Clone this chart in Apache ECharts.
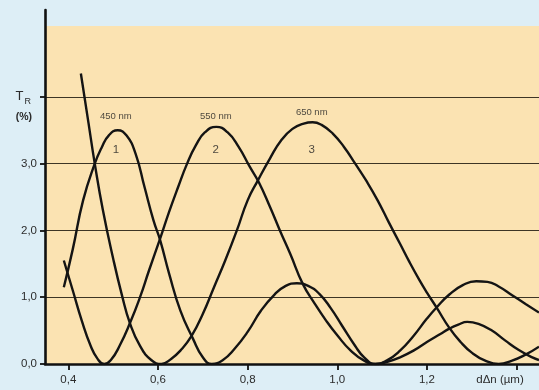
<!DOCTYPE html>
<html>
<head>
<meta charset="utf-8">
<script src="https://cdn.jsdelivr.net/npm/echarts@6/dist/echarts.min.js"></script>
<style>
  html, body { margin: 0; padding: 0; background: #ddeef6; }
  #chart { width: 539px; height: 390px; }
</style>
</head>
<body>
<div id="chart"></div>
<script>
// ---- data ----
const x450 = [0.390,0.410,0.433,0.459,0.475,0.490,0.510,0.530,0.550,0.570,0.590,0.605,0.625,0.650,0.678,0.700,0.720,0.745,0.770,0.800,0.830,0.860,0.885,0.910,0.935,0.960,0.985,1.010,1.040,1.060,1.085,1.110,1.140,1.170,1.200,1.230,1.250,1.270,1.290,1.315,1.345,1.375,1.405,1.435,1.450];
const t450 = [1.15,1.72,2.45,3.00,3.25,3.42,3.50,3.42,3.15,2.65,2.15,1.85,1.35,0.80,0.38,0.10,0.00,0.06,0.22,0.48,0.80,1.04,1.17,1.21,1.17,1.05,0.84,0.58,0.27,0.10,0.00,0.03,0.10,0.20,0.33,0.45,0.53,0.59,0.63,0.60,0.50,0.35,0.21,0.10,0.06];

const x550 = [0.390,0.410,0.430,0.450,0.465,0.480,0.495,0.515,0.538,0.560,0.580,0.605,0.625,0.645,0.665,0.685,0.705,0.730,0.755,0.780,0.805,0.825,0.850,0.872,0.895,0.923,0.950,0.975,1.000,1.030,1.060,1.085,1.110,1.140,1.170,1.200,1.222,1.250,1.280,1.310,1.335,1.360,1.390,1.420,1.450];
const t550 = [1.55,1.10,0.65,0.27,0.08,0.00,0.06,0.28,0.62,1.00,1.40,1.88,2.28,2.65,3.00,3.28,3.47,3.55,3.47,3.25,2.95,2.72,2.35,2.00,1.65,1.20,0.90,0.65,0.43,0.20,0.05,0.00,0.05,0.20,0.42,0.68,0.85,1.04,1.18,1.24,1.23,1.16,1.03,0.90,0.77];

const x650 = [0.428,0.445,0.459,0.477,0.500,0.520,0.537,0.560,0.585,0.608,0.630,0.650,0.675,0.700,0.725,0.750,0.776,0.800,0.823,0.850,0.875,0.900,0.925,0.945,0.965,0.990,1.015,1.040,1.065,1.090,1.115,1.140,1.160,1.183,1.200,1.222,1.250,1.275,1.300,1.330,1.360,1.390,1.420,1.450];
const t650 = [4.35,3.61,3.00,2.31,1.58,1.02,0.62,0.27,0.06,0.00,0.08,0.20,0.42,0.75,1.15,1.55,2.00,2.45,2.75,3.08,3.35,3.52,3.60,3.62,3.58,3.45,3.25,3.00,2.74,2.45,2.12,1.80,1.54,1.26,1.07,0.84,0.54,0.33,0.17,0.05,0.00,0.05,0.14,0.26];

const wavelengthLabels = ['450 nm', '550 nm', '650 nm'];
const curveNumbers = ['1', '2', '3'];
const peakX = [0.506, 0.729, 0.943];

const xTickValues = [0.4, 0.6, 0.8, 1.0, 1.2, 1.4];
const xLabelValues = [0.4, 0.6, 0.8, 1.0, 1.2];
const yTickValues = [0, 1, 2, 3, 4];
const xAxisName = 'dΔn (µm)';
const yAxisName = ['T', 'R', '(%)'];

// ---- build ----
const pair = (xs, ys) => xs.map((x, i) => [x, ys[i]]);
const fmt = v => v.toFixed(1).replace('.', ',');
const FONT = 'Liberation Sans, Arial, sans-serif';
const TXT = '#2c2c2c';

const lineStyle = { color: '#141414', width: 2.4 };
const curveSeries = [[x450, t450], [x550, t550], [x650, t650]].map(([xs, ys], i) => ({
  type: 'line',
  name: wavelengthLabels[i],
  data: pair(xs, ys),
  smooth: 0.5,
  showSymbol: false,
  lineStyle: lineStyle,
  z: 5,
  silent: true
}));

const annot = [];
wavelengthLabels.forEach((t, i) => {
  annot.push({ value: [peakX[i], i === 2 ? 3.77 : 3.71], label: { formatter: t, fontSize: 9.5 } });
  annot.push({ value: [peakX[i], 3.20], label: { formatter: curveNumbers[i], fontSize: 11.5 } });
});

const chart = echarts.init(document.getElementById('chart'), null, { renderer: 'canvas' });
chart.setOption({
  animation: false,
  backgroundColor: '#ddeef6',
  grid: { left: 45, right: 0, top: 10, bottom: 26 },
  xAxis: {
    type: 'value', min: 0.348, max: 1.45, z: 10,
    axisLine: { show: true, onZero: false, lineStyle: { color: '#111', width: 2.6 } },
    axisTick: { show: true, customValues: xTickValues, length: 6, inside: false, lineStyle: { color: '#111', width: 1.8 } },
    axisLabel: {
      customValues: xLabelValues.concat([1.363]),
      margin: 10, color: TXT, fontSize: 11.5, fontFamily: FONT,
      formatter: v => v > 1.3 ? xAxisName : fmt(v)
    },
    splitLine: { show: false }
  },
  yAxis: {
    type: 'value', min: 0, max: 5.3, z: 10,
    axisLine: { show: true, lineStyle: { color: '#111', width: 2.6 } },
    axisTick: { show: true, customValues: yTickValues, length: 5, inside: false, lineStyle: { color: '#111', width: 1.8 } },
    axisLabel: {
      customValues: yTickValues.concat([3.70]),
      margin: 8, color: TXT, fontSize: 11.5, fontFamily: FONT,
      formatter: v => {
        if (v === 4) return '{t|' + yAxisName[0] + '}{s|' + yAxisName[1] + '}';
        if (Math.abs(v - 3.7) < 1e-6) return '{p|' + yAxisName[2] + '}';
        return fmt(v);
      },
      rich: {
        t: { fontSize: 13, color: TXT, lineHeight: 18, verticalAlign: 'middle', fontFamily: FONT },
        s: { fontSize: 9, color: TXT, lineHeight: 18, verticalAlign: 'bottom', padding: [0, 6, 0, 1], fontFamily: FONT },
        p: { fontSize: 10.5, color: TXT, fontWeight: 'bold', padding: [0, 5, 0, 0], fontFamily: FONT }
      }
    },
    splitLine: { show: false }
  },
  series: [
    {
      type: 'line', data: [], silent: true, z: 1,
      markArea: {
        silent: true,
        itemStyle: { color: '#fbe3b2' },
        data: [[{ yAxis: 0 }, { yAxis: 5.06 }]]
      },
      markLine: {
        silent: true, symbol: 'none', label: { show: false },
        lineStyle: { color: '#3d3525', width: 1.2, type: 'solid' },
        data: yTickValues.filter(v => v > 0).map(v => ({ yAxis: v }))
      }
    },
    ...curveSeries,
    {
      type: 'scatter', data: annot, symbolSize: 0, silent: true, z: 6,
      label: { show: true, position: 'inside', color: '#222', fontFamily: FONT }
    }
  ]
});
</script>
</body>
</html>
